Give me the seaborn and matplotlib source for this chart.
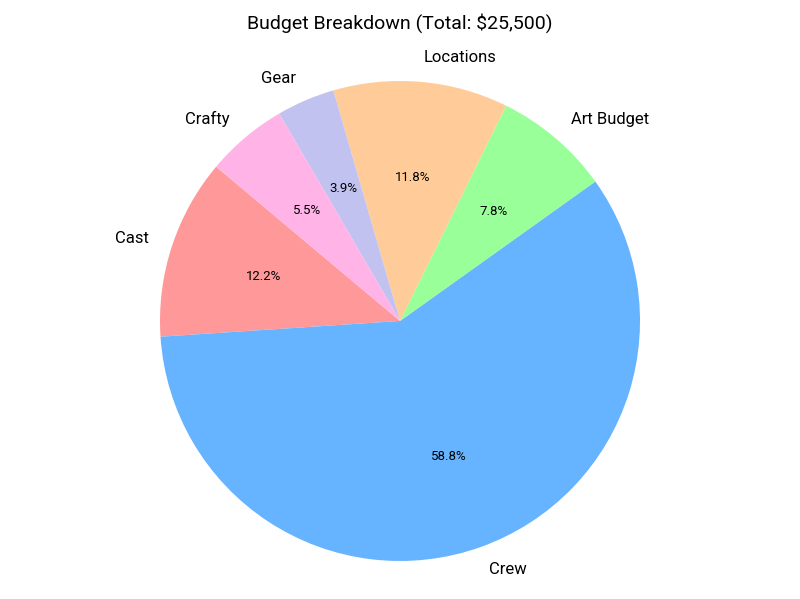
import matplotlib
matplotlib.use("Agg")
import matplotlib.pyplot as plt
import seaborn as sns

sns.set_theme(style="white")
plt.rcParams['font.family'] = ['Roboto', 'DejaVu Sans']
plt.rcParams['text.color'] = 'black'

categories = ['Cast', 'Crew', 'Art Budget', 'Locations', 'Gear', 'Crafty']
amounts = [3100, 15000, 2000, 3000, 1000, 1400]
colors = ['#ff9999', '#66b3ff', '#99ff99', '#ffcc99', '#c2c2f0', '#ffb3e6']

total = sum(amounts)

fig, ax = plt.subplots(figsize=(8, 5.99), dpi=100)
wedges, texts, autotexts = ax.pie(amounts, labels=categories, colors=colors,
                                  autopct='%1.1f%%', startangle=140,
                                  wedgeprops={'linewidth': 0},
                                  textprops={'fontsize': 12, 'color': 'black'})
for t in autotexts:
    t.set_fontsize(9.5)
ax.set_title(f'Budget Breakdown (Total: ${total:,})', fontsize=14, pad=20,
             color='black')
ax.axis('equal')
ax.set_position([0.0, 0.0234, 1.0, 0.8815])
plt.savefig('out.png')
